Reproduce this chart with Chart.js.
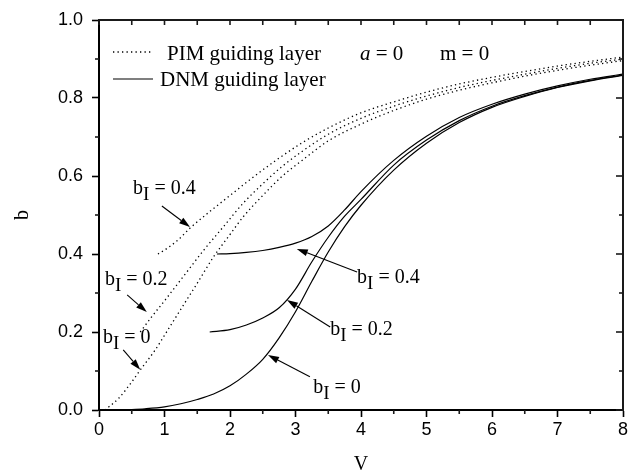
<!DOCTYPE html>
<html>
<head>
<meta charset="utf-8">
<script src="https://cdn.jsdelivr.net/npm/chart.js@4/dist/chart.umd.min.js"></script>
<style>
  html, body { margin: 0; padding: 0; background: #fff; }
  #wrap { width: 638px; height: 470px; }
</style>
</head>
<body>
<div id="wrap"><canvas id="chart" width="638" height="470"></canvas></div>
<script>
// tick labels
const xTicks = [0, 1, 2, 3, 4, 5, 6, 7, 8];
const yTicks = [0, 0.2, 0.4, 0.6, 0.8, 1.0];

// PIM guiding layer (dotted)
const pimV0 = [0.09, 0.3, 0.5, 0.64, 0.85, 1.05, 1.3, 1.5, 1.75, 2.0, 2.2, 2.5, 2.8, 3.1, 3.5, 4.0, 4.5, 5.0, 5.5, 6.0, 6.5, 7.0, 7.5, 8.0];
const pimB0 = [0.0, 0.03, 0.072, 0.105, 0.152, 0.205, 0.272, 0.325, 0.393, 0.45, 0.495, 0.55, 0.6, 0.64, 0.69, 0.733, 0.768, 0.797, 0.82, 0.839, 0.856, 0.871, 0.884, 0.896];
const pimV02 = [0.63, 0.8, 1.0, 1.3, 1.6, 1.9, 2.2, 2.5, 2.8, 3.1, 3.5, 4.0, 4.5, 5.0, 5.5, 6.0, 6.5, 7.0, 7.5, 8.0];
const pimB02 = [0.2, 0.238, 0.28, 0.345, 0.41, 0.47, 0.53, 0.58, 0.625, 0.663, 0.707, 0.748, 0.779, 0.805, 0.827, 0.845, 0.861, 0.876, 0.889, 0.9];
const pimV04 = [0.9, 1.0, 1.2, 1.4, 1.7, 2.0, 2.3, 2.7, 3.1, 3.5, 4.0, 4.5, 5.0, 5.5, 6.0, 6.5, 7.0, 7.5, 8.0];
const pimB04 = [0.4, 0.41, 0.435, 0.468, 0.51, 0.55, 0.59, 0.64, 0.685, 0.723, 0.762, 0.79, 0.815, 0.836, 0.853, 0.868, 0.882, 0.894, 0.905];

// DNM guiding layer (solid)
const dnmV0 = [0.4, 0.7, 1.0, 1.25, 1.5, 1.75, 2.0, 2.25, 2.5, 2.75, 3.0, 3.25, 3.5, 3.75, 4.0, 4.5, 5.0, 5.5, 6.0, 6.5, 7.0, 7.5, 8.0];
const dnmB0 = [0.0, 0.003, 0.008, 0.016, 0.027, 0.041, 0.062, 0.092, 0.13, 0.185, 0.252, 0.33, 0.405, 0.47, 0.525, 0.615, 0.684, 0.737, 0.776, 0.804, 0.827, 0.844, 0.858];
const dnmV02 = [1.69, 2.0, 2.25, 2.5, 2.75, 3.0, 3.25, 3.5, 3.75, 4.0, 4.5, 5.0, 5.5, 6.0, 6.5, 7.0, 7.5, 8.0];
const dnmB02 = [0.2, 0.206, 0.218, 0.236, 0.262, 0.31, 0.38, 0.443, 0.497, 0.54, 0.628, 0.692, 0.742, 0.779, 0.806, 0.828, 0.845, 0.859];
const dnmV04 = [1.8, 2.0, 2.25, 2.5, 2.75, 3.0, 3.25, 3.5, 3.75, 4.0, 4.5, 5.0, 5.5, 6.0, 6.5, 7.0, 7.5, 8.0];
const dnmB04 = [0.4, 0.401, 0.404, 0.409, 0.417, 0.428, 0.445, 0.472, 0.513, 0.56, 0.64, 0.702, 0.75, 0.784, 0.81, 0.831, 0.848, 0.861];

// b_I labels: text anchor and arrow (tail -> head), in data units
const bLabels = [
  { val: '0.4', tx: 0.52, ty: 0.554, ax: 0.96, ay: 0.523, hx: 1.39, hy: 0.469 },
  { val: '0.2', tx: 0.09, ty: 0.321, ax: 0.43, ay: 0.295, hx: 0.73, hy: 0.251 },
  { val: '0',   tx: 0.06, ty: 0.172, ax: 0.37, ay: 0.154, hx: 0.63, hy: 0.103 },
  { val: '0.4', tx: 3.94, ty: 0.326, ax: 3.94, ay: 0.354, hx: 3.02, hy: 0.413 },
  { val: '0.2', tx: 3.53, ty: 0.192, ax: 3.53, ay: 0.213, hx: 2.87, hy: 0.282 },
  { val: '0',   tx: 3.27, ty: 0.044, ax: 3.22, ay: 0.085, hx: 2.58, hy: 0.141 }
];

const SERIF = '"Liberation Serif", "DejaVu Serif", serif';
const SANS = '"Liberation Sans", Arial, sans-serif';
const INK = '#1a1a1a';

function pts(vs, bs) {
  return vs.map((v, i) => ({ x: v, y: bs[i] }));
}

function curve(label, vs, bs, dotted) {
  return {
    label: label,
    data: pts(vs, bs),
    showLine: true,
    borderColor: '#000',
    borderWidth: dotted ? 1.3 : 1.2,
    borderDash: dotted ? [1.3, 3.2] : [],
    pointRadius: 0,
    cubicInterpolationMode: 'monotone',
    fill: false
  };
}

function seg(c, x1, y1, x2, y2) {
  c.beginPath();
  c.moveTo(x1, y1);
  c.lineTo(x2, y2);
  c.stroke();
}

// top/right sides of the box and the minor ticks (left/bottom come from the scales)
const axesPlugin = {
  id: 'axesFrame',
  afterDatasetsDraw(chart) {
    const c = chart.ctx;
    const x = chart.scales.x, y = chart.scales.y;
    const L = x.getPixelForValue(0), R = x.getPixelForValue(8);
    const T = y.getPixelForValue(1), B = y.getPixelForValue(0);
    c.save();
    c.setLineDash([]);
    c.strokeStyle = INK;
    c.lineWidth = 2;
    c.beginPath();
    c.moveTo(L - 1, T); c.lineTo(R, T); c.lineTo(R, B + 1);
    c.stroke();
    c.lineWidth = 1.6;
    for (let i = 0; i <= 16; i++) {
      const px = x.getPixelForValue(i / 2);
      if (i % 2 === 1) seg(c, px, B, px, B + 4);
      seg(c, px, T, px, T + 5);
    }
    for (let i = 0; i <= 10; i++) {
      const py = y.getPixelForValue(i / 10);
      if (i % 2 === 1) seg(c, L - 4, py, L, py);
      seg(c, R - (i % 2 === 0 ? 7 : 4), py, R, py);
    }
    c.restore();
  }
};

const notesPlugin = {
  id: 'notes',
  afterDraw(chart) {
    const c = chart.ctx;
    const x = chart.scales.x, y = chart.scales.y;
    c.save();
    c.setLineDash([]);
    c.strokeStyle = '#000';
    c.fillStyle = '#000';

    // legend
    c.lineWidth = 1.3;
    c.setLineDash([1.3, 3.2]);
    seg(c, 113, 52, 153, 52);
    c.setLineDash([]);
    c.lineWidth = 1.2;
    seg(c, 113, 79, 153, 79);
    c.textBaseline = 'alphabetic';
    c.textAlign = 'left';
    c.font = '21px ' + SERIF;
    c.fillText('PIM guiding layer', 167, 60);
    c.fillText('DNM guiding layer', 160, 86);
    c.font = 'italic 21px ' + SERIF;
    c.fillText('a', 360, 60);
    const w = c.measureText('a').width;
    c.font = '21px ' + SERIF;
    c.fillText(' = 0', 360 + w, 60);
    c.fillText('m = 0', 440, 60);

    // b_I labels with arrows
    bLabels.forEach(l => {
      const tx = x.getPixelForValue(l.tx), ty = y.getPixelForValue(l.ty);
      c.font = '20px ' + SERIF;
      c.fillText('b', tx, ty);
      let cx = tx + c.measureText('b').width;
      c.font = '19px ' + SERIF;
      c.fillText('I', cx, ty + 6);
      cx += c.measureText('I').width;
      c.font = '20px ' + SERIF;
      c.fillText(' = ' + l.val, cx, ty);

      const x1 = x.getPixelForValue(l.ax), y1 = y.getPixelForValue(l.ay);
      const x2 = x.getPixelForValue(l.hx), y2 = y.getPixelForValue(l.hy);
      const ang = Math.atan2(y2 - y1, x2 - x1);
      const hl = 11, hw = 3.5;
      const bx = x2 - hl * Math.cos(ang), by = y2 - hl * Math.sin(ang);
      c.lineWidth = 1.1;
      seg(c, x1, y1, bx, by);
      c.beginPath();
      c.moveTo(x2, y2);
      c.lineTo(bx + hw * Math.sin(ang), by - hw * Math.cos(ang));
      c.lineTo(bx - hw * Math.sin(ang), by + hw * Math.cos(ang));
      c.closePath();
      c.fill();
    });
    c.restore();
  }
};

new Chart(document.getElementById('chart').getContext('2d'), {
  type: 'scatter',
  data: {
    datasets: [
      curve('PIM bI=0', pimV0, pimB0, true),
      curve('PIM bI=0.2', pimV02, pimB02, true),
      curve('PIM bI=0.4', pimV04, pimB04, true),
      curve('DNM bI=0', dnmV0, dnmB0, false),
      curve('DNM bI=0.2', dnmV02, dnmB02, false),
      curve('DNM bI=0.4', dnmV04, dnmB04, false)
    ]
  },
  options: {
    responsive: false,
    animation: false,
    layout: { autoPadding: false, padding: { top: 20, right: 15, left: 0, bottom: 0 } },
    plugins: { legend: { display: false }, tooltip: { enabled: false } },
    scales: {
      x: {
        type: 'linear', min: 0, max: 8,
        grid: { display: true, drawOnChartArea: false, drawTicks: true, tickLength: 7, tickWidth: 1.6, tickColor: '#000' },
        border: { display: true, color: '#000', width: 2 },
        afterBuildTicks: s => { s.ticks = xTicks.map(v => ({ value: v })); },
        afterFit: s => { s.height = 60; s.paddingLeft = 0; s.paddingRight = 0; s.paddingTop = 0; s.paddingBottom = 0; },
        ticks: { color: '#000', font: { family: SANS, size: 18 }, padding: 2, maxRotation: 0, callback: v => String(v) },
        title: { display: true, text: 'V', color: '#000', font: { family: SERIF, size: 20 }, padding: { top: 0, bottom: -7 } }
      },
      y: {
        type: 'linear', min: 0, max: 1,
        grid: { display: true, drawOnChartArea: false, drawTicks: true, tickLength: 7, tickWidth: 1.6, tickColor: '#000' },
        border: { display: true, color: '#000', width: 2 },
        afterBuildTicks: s => { s.ticks = yTicks.map(v => ({ value: v })); },
        afterFit: s => { s.width = 99; s.paddingTop = 0; s.paddingBottom = 0; s.paddingLeft = 0; s.paddingRight = 0; },
        ticks: { color: '#000', font: { family: SANS, size: 18 }, padding: 9, callback: v => v.toFixed(1) },
        title: { display: true, text: 'b', color: '#000', font: { family: SERIF, size: 20 }, padding: { top: 11, bottom: 0 } }
      }
    }
  },
  plugins: [axesPlugin, notesPlugin]
});
</script>
</body>
</html>
